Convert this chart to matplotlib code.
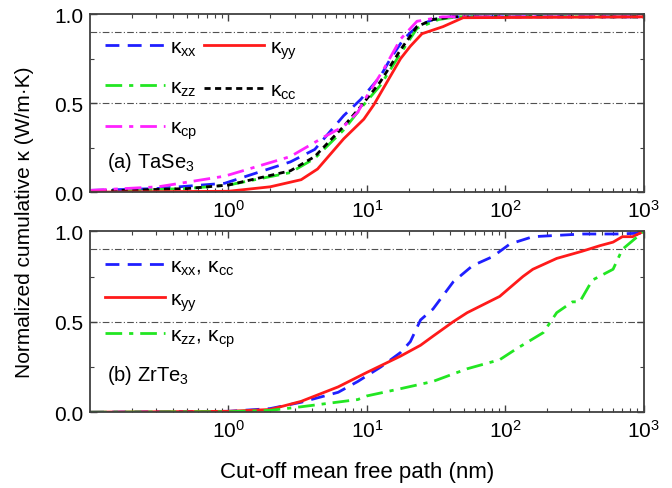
import matplotlib
matplotlib.use("Agg")
import matplotlib.pyplot as plt
from matplotlib.ticker import LogLocator, MultipleLocator

plt.rcParams['font.family'] = ['Liberation Sans', 'DejaVu Sans']
plt.rcParams['mathtext.fontset'] = 'custom'
plt.rcParams['mathtext.rm'] = 'Liberation Sans'
plt.rcParams['mathtext.it'] = 'Liberation Sans'
plt.rcParams['mathtext.default'] = 'regular'

# ===================================
# Data
# ===================================

# (a) TaSe3
a_xx_x = [0.1, 0.3, 0.94, 2.8, 4.2, 6.8, 9.0, 12.5, 14.8, 18.4, 23, 30, 40, 1000]
a_xx_y = [0.01, 0.02, 0.05, 0.17, 0.24, 0.43, 0.52, 0.65, 0.75, 0.86, 0.93, 0.97, 0.985, 0.985]

a_yy_x = [0.1, 1.0, 2.0, 3.35, 4.4, 6.8, 9.5, 11.2, 14, 17.5, 20.6, 25, 35.5, 49.5, 1000]
a_yy_y = [0.0, 0.005, 0.03, 0.07, 0.13, 0.30, 0.41, 0.49, 0.62, 0.75, 0.82, 0.89, 0.93, 0.98, 0.985]

a_zz_x = [0.1, 0.5, 1.0, 2.8, 4.2, 6.8, 9.0, 12.5, 17.5, 23, 33, 45, 1000]
a_zz_y = [0.005, 0.02, 0.04, 0.11, 0.19, 0.35, 0.47, 0.60, 0.78, 0.92, 0.97, 0.985, 0.985]

a_cc_x = [0.1, 0.5, 1.0, 2.8, 4.2, 6.8, 9.0, 12.5, 17.5, 23, 30, 42, 1000]
a_cc_y = [0.005, 0.02, 0.04, 0.12, 0.20, 0.37, 0.48, 0.62, 0.80, 0.93, 0.97, 0.985, 0.985]

a_cp_x = [0.1, 0.31, 0.94, 2.8, 4.9, 6.8, 8.6, 10, 13.2, 17.5, 23, 35, 1000]
a_cp_y = [0.01, 0.03, 0.09, 0.20, 0.31, 0.37, 0.45, 0.54, 0.69, 0.86, 0.96, 0.985, 0.985]

# (b) ZrTe3
b_xx_x = [0.1, 1.0, 2.0, 3.35, 6.2, 8.6, 12.6, 17.5, 20.6, 24.4, 30, 42, 58, 81, 108, 158, 360, 630, 1000]
b_xx_y = [0.0, 0.005, 0.02, 0.055, 0.11, 0.17, 0.25, 0.33, 0.39, 0.51, 0.57, 0.72, 0.81, 0.86, 0.93, 0.97, 0.985, 0.985, 0.99]

b_yy_x = [0.1, 1.0, 2.0, 3.35, 6.2, 10, 17.5, 24.4, 30, 42, 53, 91, 134, 158, 235, 360, 480, 600, 700, 830, 1000]
b_yy_y = [0.0, 0.005, 0.015, 0.06, 0.14, 0.22, 0.31, 0.37, 0.42, 0.50, 0.55, 0.64, 0.75, 0.79, 0.85, 0.89, 0.92, 0.94, 0.97, 0.97, 1.0]

b_zz_x = [0.1, 1.0, 2.0, 3.35, 8.6, 10, 17.5, 30, 53, 91, 120, 188, 235, 305, 345, 425, 600, 700, 1000]
b_zz_y = [0.0, 0.003, 0.01, 0.03, 0.07, 0.09, 0.13, 0.17, 0.24, 0.29, 0.35, 0.44, 0.55, 0.61, 0.61, 0.73, 0.79, 0.90, 1.0]

ref_levels = [0.5, 0.9]

# ===================================
# Plotting
# ===================================

fig = plt.figure(figsize=(6.72, 4.89), dpi=100)
ax1 = fig.add_axes([0.134, 0.605, 0.824, 0.364])
ax2 = fig.add_axes([0.134, 0.155, 0.824, 0.370])

blue_dash = (0, (5, 3))
black_dash = (0, (2.2, 1.6))
dashdot = (0, (6, 2.5, 1.5, 2.5))

h_xx, = ax1.plot(a_xx_x, a_xx_y, color='#1f1fff', lw=2, ls=blue_dash, label=r'$\kappa_{xx}$')
h_zz, = ax1.plot(a_zz_x, a_zz_y, color='#22e622', lw=2, ls=dashdot, label=r'$\kappa_{zz}$')
h_cc, = ax1.plot(a_cc_x, a_cc_y, color='black', lw=2, ls=black_dash, label=r'$\kappa_{cc}$')
h_cp, = ax1.plot(a_cp_x, a_cp_y, color='#ff22ff', lw=2, ls=dashdot, label=r'$\kappa_{cp}$')
h_yy, = ax1.plot(a_yy_x, a_yy_y, color='#ff1a1a', lw=2, ls='-', label=r'$\kappa_{yy}$')

g_xx, = ax2.plot(b_xx_x, b_xx_y, color='#1f1fff', lw=2, ls=blue_dash, label=r'$\kappa_{xx}$, $\kappa_{cc}$')
g_yy, = ax2.plot(b_yy_x, b_yy_y, color='#ff1a1a', lw=2, ls='-', label=r'$\kappa_{yy}$')
g_zz, = ax2.plot(b_zz_x, b_zz_y, color='#22e622', lw=2, ls=dashdot, label=r'$\kappa_{zz}$, $\kappa_{cp}$')

for ax in (ax1, ax2):
    for lv in ref_levels:
        ax.axhline(lv, color='#505050', lw=0.8, ls=(0, (6, 2, 1, 2)), zorder=0)
    ax.set_xscale('log')
    ax.set_xlim(0.1, 1000)
    ax.set_ylim(0, 1.0)
    ax.yaxis.set_major_locator(MultipleLocator(0.5))
    ax.yaxis.set_minor_locator(MultipleLocator(0.25))
    ax.yaxis.set_major_formatter(plt.FormatStrFormatter('%.1f'))
    ax.xaxis.set_major_locator(LogLocator(base=10, numticks=10))
    ax.xaxis.set_minor_locator(LogLocator(base=10, subs=range(2, 10), numticks=20))
    ax.tick_params(which='both', direction='in', top=True, right=True, labelsize=15, color='#404040')
    ax.tick_params(which='major', length=5, width=1, pad=5)
    ax.tick_params(which='minor', length=3, width=0.8)
    for sp in ax.spines.values():
        sp.set_color('#404040')
        sp.set_linewidth(1.3)
    ax.set_xticks([1, 10, 100, 1000])

ax1.legend(handles=[h_xx, h_zz, h_cp, h_yy, h_cc], ncol=2, loc='upper left',
           bbox_to_anchor=(0.0, 0.95), frameon=False, fontsize=15,
           handlelength=2.9, handletextpad=0.25, columnspacing=0.3, labelspacing=0.95,
           borderaxespad=0.3)
ax2.legend(handles=[g_xx, g_yy, g_zz], loc='upper left', bbox_to_anchor=(0.0, 0.94),
           frameon=False, fontsize=15, handlelength=2.9, handletextpad=0.25,
           labelspacing=0.6, borderaxespad=0.3)

ax1.text(0.03, 0.17, r'(a) TaSe$_3$', transform=ax1.transAxes, fontsize=14.5, va='center')
ax2.text(0.03, 0.21, r'(b) ZrTe$_3$', transform=ax2.transAxes, fontsize=14.5, va='center')

fig.text(0.037, 0.545, 'Normalized cumulative κ (W/m·K)', rotation=90, fontsize=15,
         ha='center', va='center')
fig.text(0.532, 0.033, 'Cut-off mean free path (nm)', fontsize=16, ha='center', va='center')

fig.savefig('out.png', dpi=100)
